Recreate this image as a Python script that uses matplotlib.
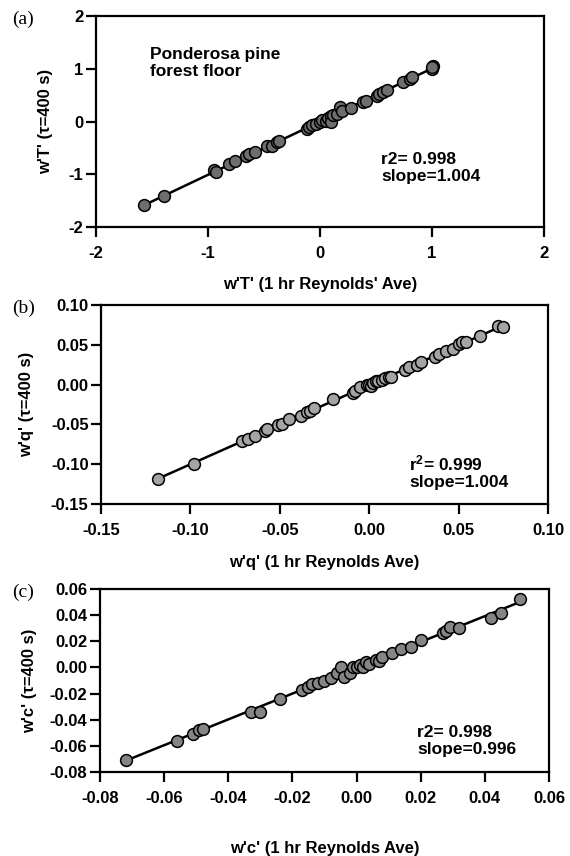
import numpy as np
import matplotlib
matplotlib.use("Agg")
import matplotlib.pyplot as plt

plt.rcParams['font.family'] = ['Liberation Sans', 'DejaVu Sans']
plt.rcParams['font.weight'] = 'bold'
plt.rcParams['axes.unicode_minus'] = False
plt.rcParams['mathtext.fontset'] = 'custom'
plt.rcParams['mathtext.rm'] = 'Liberation Sans:bold'
plt.rcParams['mathtext.it'] = 'Liberation Sans:bold'
plt.rcParams['mathtext.bf'] = 'Liberation Sans:bold'
plt.rcParams['mathtext.default'] = 'rm'

# ── (a) sensible heat flux w'T' ────────────────────────────────────────────
wT_ref = [-1.57, -1.39, -0.95, -0.93, -0.81, -0.76, -0.66, -0.63, -0.58, -0.47,
          -0.43, -0.38, -0.37, -0.12, -0.10, -0.07, -0.04, 0.00, 0.02, 0.05,
          0.07, 0.10, 0.10, 0.12, 0.15, 0.18, 0.20, 0.28, 0.38, 0.41,
          0.51, 0.53, 0.56, 0.60, 0.74, 0.80, 0.82, 1.00, 1.01, 1.00]
wT_400 = [-1.59, -1.42, -0.92, -0.95, -0.81, -0.75, -0.66, -0.62, -0.57, -0.47,
          -0.46, -0.39, -0.37, -0.15, -0.10, -0.07, -0.04, 0.00, 0.03, 0.01,
          0.07, 0.10, 0.00, 0.13, 0.15, 0.27, 0.20, 0.26, 0.37, 0.39,
          0.49, 0.52, 0.55, 0.60, 0.74, 0.80, 0.84, 1.00, 1.06, 1.03]

# ── (b) latent heat flux w'q' ─────────────────────────────────────────────
wq_ref = [-0.118, -0.098, -0.071, -0.068, -0.064, -0.058, -0.057, -0.051, -0.049, -0.045,
          -0.038, -0.035, -0.033, -0.031, -0.020, -0.009, -0.008, -0.005, -0.001, 0.000,
          0.001, 0.002, 0.004, 0.005, 0.007, 0.009, 0.011, 0.012, 0.020, 0.022,
          0.027, 0.029, 0.037, 0.039, 0.043, 0.047, 0.050, 0.052, 0.054, 0.062,
          0.072, 0.075]
wq_400 = [-0.119, -0.100, -0.071, -0.068, -0.065, -0.058, -0.056, -0.051, -0.050, -0.043,
          -0.039, -0.035, -0.033, -0.030, -0.018, -0.010, -0.008, -0.003, -0.001, 0.000,
          -0.002, 0.002, 0.004, 0.005, 0.006, 0.008, 0.010, 0.010, 0.018, 0.022,
          0.025, 0.028, 0.035, 0.038, 0.042, 0.045, 0.051, 0.053, 0.054, 0.061,
          0.074, 0.072]

# ── (c) CO2 flux w'c' ──────────────────────────────────────────────────────
wc_ref = [-0.072, -0.056, -0.051, -0.049, -0.048, -0.033, -0.030, -0.024, -0.017, -0.015,
          -0.014, -0.012, -0.010, -0.008, -0.006, -0.005, -0.004, -0.002, -0.001, 0.000,
          0.001, 0.002, 0.003, 0.004, 0.006, 0.007, 0.008, 0.011, 0.014, 0.017,
          0.020, 0.027, 0.028, 0.029, 0.032, 0.042, 0.045, 0.051]
wc_400 = [-0.071, -0.056, -0.051, -0.048, -0.047, -0.034, -0.034, -0.024, -0.017, -0.015,
          -0.013, -0.012, -0.010, -0.008, -0.004, 0.000, -0.007, -0.004, 0.000, 0.000,
          0.002, 0.000, 0.004, 0.003, 0.006, 0.005, 0.008, 0.011, 0.014, 0.016,
          0.021, 0.026, 0.028, 0.031, 0.030, 0.038, 0.042, 0.052]

panels = [
    dict(x=wT_ref, y=wT_400, lim=(-2, 2), ticks=[-2, -1, 0, 1, 2], fmt='{:.0f}',
         xlabel="w'T' (1 hr Reynolds' Ave)", ylabel="w'T' (τ=400 s)",
         stats="r2= 0.998\nslope=1.004", tag='(a)', face='#6e6e6e',
         rect=[0.1684, 0.7348, 0.786, 0.2465], stat_xy=(381, 168),
         xlab_y=284, ylab_x=46),
    dict(x=wq_ref, y=wq_400, lim=(-0.15, 0.10),
         ticks=[-0.15, -0.10, -0.05, 0.00, 0.05, 0.10], fmt='{:.2f}',
         xlabel="w'q' (1 hr Reynolds Ave)", ylabel="w'q' (τ=400 s)",
         stats="r$^2$= 0.999\nslope=1.004", tag='(b)', face='#a4a4a4',
         rect=[0.1772, 0.4112, 0.7842, 0.2325], stat_xy=(409, 472),
         xlab_y=562, ylab_x=27),
    dict(x=wc_ref, y=wc_400, lim=(-0.08, 0.06),
         ticks=[-0.08, -0.06, -0.04, -0.02, 0.00, 0.02, 0.04, 0.06], fmt='{:.2f}',
         xlabel="w'c' (1 hr Reynolds Ave)", ylabel="w'c' (τ=400 s)",
         stats="r2= 0.998\nslope=0.996", tag='(c)', face='#858585',
         rect=[0.1754, 0.0981, 0.7877, 0.2138], stat_xy=(417, 741),
         xlab_y=848, ylab_x=30),
]

W, H = 570, 856
fig = plt.figure(figsize=(W / 100, H / 100), dpi=100)

for p in panels:
    ax = fig.add_axes(p['rect'])
    x = np.array(p['x'])
    y = np.array(p['y'])
    slope, icpt = np.polyfit(x, y, 1)
    xl = np.array([x.min(), x.max()])
    ax.plot(xl, slope * xl + icpt, color='black', lw=1.8, zorder=2)
    ax.scatter(x, y, s=72, facecolor=p['face'], edgecolor='black',
               linewidth=1.1, zorder=3)

    ax.set_xlim(p['lim'])
    ax.set_ylim(p['lim'])
    ax.set_xticks(p['ticks'])
    ax.set_yticks(p['ticks'])
    labels = [p['fmt'].format(t) for t in p['ticks']]
    labels = [l.replace('-0.00', '0.00') for l in labels]
    ax.set_xticklabels(labels, fontsize=12, fontweight='bold')
    ax.set_yticklabels(labels, fontsize=12, fontweight='bold')
    ax.tick_params(direction='out', length=7, width=1.6, pad=2)
    ax.tick_params(axis='x', pad=7)
    for s in ax.spines.values():
        s.set_linewidth(1.6)

    # axis labels placed in pixel coordinates
    fig.text(0.5 * (p['rect'][0] * 2 + p['rect'][2]), 1 - p['xlab_y'] / H,
             p['xlabel'], ha='center', va='center', fontsize=12, fontweight='bold')
    fig.text(p['ylab_x'] / W, p['rect'][1] + p['rect'][3] / 2, p['ylabel'],
             rotation=90, ha='center', va='center', fontsize=12, fontweight='bold')
    fig.text(p['stat_xy'][0] / W, 1 - p['stat_xy'][1] / H, p['stats'],
             ha='left', va='center', fontsize=12.5, fontweight='bold', linespacing=1.15)
    fig.text(12 / W, p['rect'][1] + p['rect'][3] - 0.004, p['tag'], ha='left',
             va='center', fontsize=14, family='Liberation Serif', fontweight='normal')

fig.text(150 / W, 1 - 63 / H, "Ponderosa pine\nforest floor", ha='left',
         va='center', fontsize=12.5, fontweight='bold', linespacing=1.15)

fig.savefig('out.png', dpi=100)
